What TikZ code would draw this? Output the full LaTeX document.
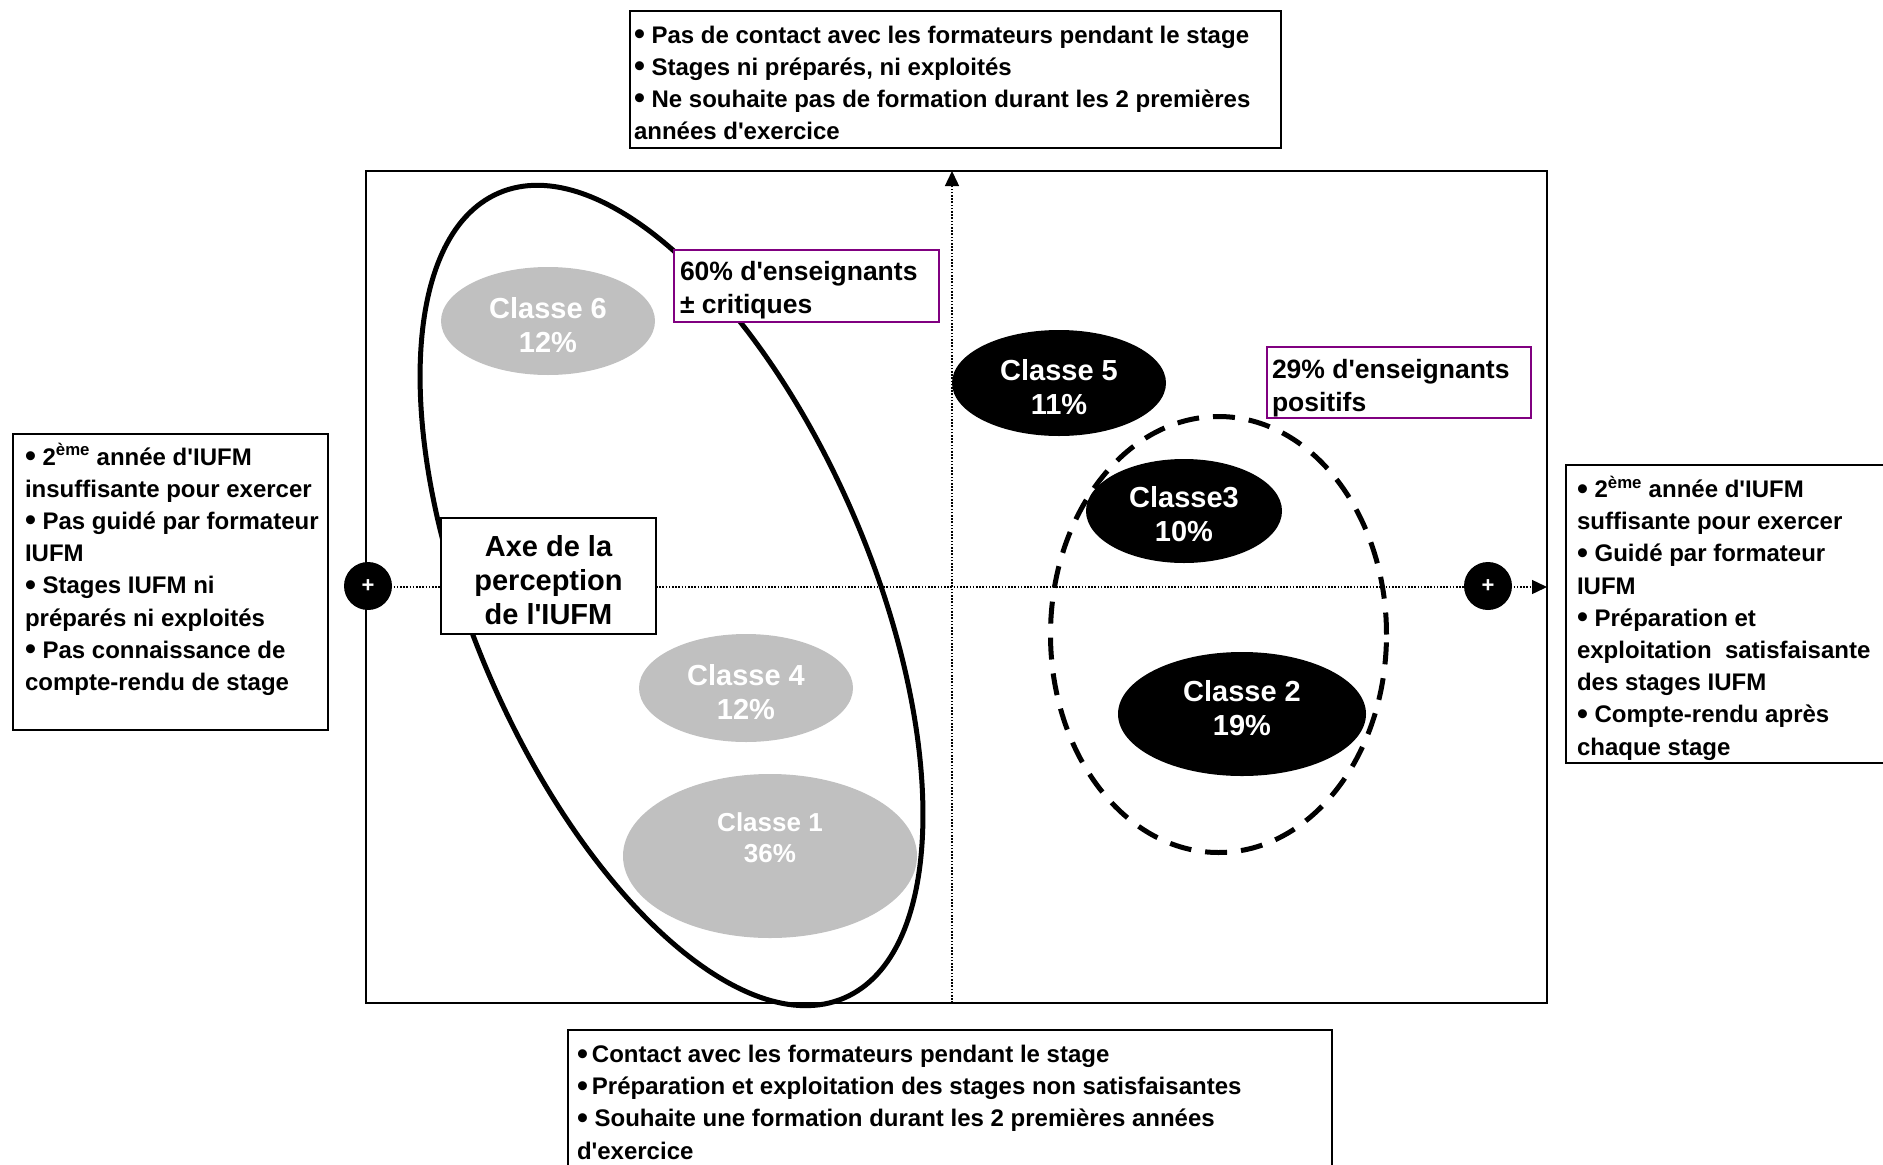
\documentclass[tikz,border=0pt]{standalone}
\usepackage{fontspec}
\usepackage{graphicx}
\newfontfamily\arialfont{Liberation Sans}
\usetikzlibrary{arrows.meta,shapes.geometric}
\definecolor{classgray}{HTML}{C0C0C0}
\definecolor{boxpurple}{HTML}{800080}
\newcommand{\mybul}{\raisebox{-1.5pt}{\scalebox{1.3}{\textbullet}}}
\begin{document}
\begin{tikzpicture}[x=1pt,y=-1pt,
  every node/.style={inner sep=0pt, outer sep=0pt},
  bodytext/.style={anchor=base west, align=left, font=\arialfont\bfseries\fontsize{24}{32.2}\selectfont},
  notetext/.style={anchor=base west, align=left, font=\arialfont\bfseries\fontsize{26.5}{32.5}\selectfont},
  axetext/.style={anchor=base, align=center, font=\arialfont\bfseries\fontsize{29}{34}\selectfont},
  classtext/.style={align=center, text=white, font=\arialfont\bfseries\fontsize{29}{33.5}\selectfont},
  smallclasstext/.style={align=center, text=white, font=\arialfont\bfseries\fontsize{26}{31}\selectfont},
  framebox/.style={draw=black, line width=2.5pt, anchor=north west},
  textbox/.style={draw=black, line width=1.8pt, fill=white, anchor=north west},
  notebox/.style={draw=boxpurple, line width=1.8pt, fill=white, anchor=north west},
  axisline/.style={line width=1.4pt, dash pattern=on 1.6pt off 1.6pt},
  axisarrow/.style={-{Triangle[length=15pt,width=14pt]}},
  graycl/.style={ellipse, fill=classgray},
  blackcl/.style={ellipse, fill=black},
  pluscircle/.style={circle, fill=black, minimum size=48pt, text=white, font=\arialfont\bfseries\fontsize{22}{22}\selectfont},
  groupsolid/.style={line width=5pt},
  groupdashed/.style={line width=5pt, dash pattern=on 22pt off 14pt},
]
\useasboundingbox (0,0) rectangle (1883,1165);
\clip (0,0) rectangle (1883,1165);

% main frame
\node[framebox, minimum width=1181pt, minimum height=832pt] (frame) at (366,171) {};

% axes
\coordinate (hstart) at (368,587);
\coordinate (vbase) at (952,1003);
\draw[axisline, axisarrow] (hstart) -- (frame.east |- hstart);
\draw[axisline, axisarrow] (vbase) -- (vbase |- frame.north);

% grey classes
\node[graycl, minimum width=214pt, minimum height=108pt] (c6) at (548,321) {};
\node[classtext] (c6t) at (548,325) {Classe 6\\12\%};
\node[graycl, minimum width=214pt, minimum height=108pt] (c4) at (746,688) {};
\node[classtext] (c4t) at (746,692) {Classe 4\\12\%};
\node[graycl, minimum width=294pt, minimum height=164pt] (c1) at (770,856) {};
\node[smallclasstext] (c1t) at (770,838) {Classe 1\\36\%};

% group outlines
\coordinate (gcrit) at (671.5,595.5);
\draw[groupsolid, rotate around={-66.8:(gcrit)}] (gcrit) ellipse [x radius=438pt, y radius=199pt];
\coordinate (gpos) at (1218.5,634.5);
\draw[groupdashed] (gpos) ellipse [x radius=168pt, y radius=218pt];

% black classes
\node[blackcl, minimum width=214pt, minimum height=106pt] (c5) at (1059,383) {};
\node[classtext] (c5t) at (1059,387) {Classe 5\\11\%};
\node[blackcl, minimum width=196pt, minimum height=104pt] (c3) at (1184,511) {};
\node[classtext] (c3t) at (1184,514) {Classe3\\10\%};
\node[blackcl, minimum width=248pt, minimum height=124pt] (c2) at (1242,714) {};
\node[classtext] (c2t) at (1242,708) {Classe 2\\19\%};

% plus markers
\node[pluscircle] (pleft) at (368,586) {+};
\node[pluscircle] (pright) at (1488,586) {+};

% axis label
\node[textbox, minimum width=215pt, minimum height=116pt] (axebox) at (441,518) {};
\node[axetext] (axetxt) at (548.5,624.5) {Axe de la\\perception\\de l'IUFM};

% purple notes
\node[notebox, minimum width=265pt, minimum height=72pt] (n60) at (674,250) {};
\node[notetext] (n60t) at (680,313) {60\% d'enseignants\\± critiques};
\node[notebox, minimum width=264pt, minimum height=71pt] (n29) at (1267,347) {};
\node[notetext] (n29t) at (1272,411) {29\% d'enseignants\\positifs};

% top box
\node[textbox, minimum width=651pt, minimum height=137pt] (topbox) at (630,11) {};
\node[bodytext] (toptxt) at (634,139.6) {\mybul{} Pas de contact avec les formateurs pendant le stage\\\mybul{} Stages ni préparés, ni exploités\\\mybul{} Ne souhaite pas de formation durant les 2 premières\\années d'exercice};

% left box
\node[textbox, minimum width=315pt, minimum height=296pt] (leftbox) at (13,434) {};
\node[bodytext] (lefttxt) at (25,690.4) {\mybul{} 2\textsuperscript{ème} année d'IUFM\\insuffisante pour exercer\\\mybul{} Pas guidé par formateur\\IUFM\\\mybul{} Stages IUFM ni\\préparés ni exploités\\\mybul{} Pas connaissance de\\compte-rendu de stage};

% right box
\node[textbox, minimum width=340pt, minimum height=298pt] (rightbox) at (1566,465) {};
\node[bodytext] (righttxt) at (1577,755.1) {\mybul{} 2\textsuperscript{ème} année d'IUFM\\suffisante pour exercer\\\mybul{} Guidé par formateur\\IUFM\\\mybul{} Préparation et\\exploitation~ satisfaisante\\des stages IUFM\\\mybul{} Compte-rendu après\\chaque stage};

% bottom box
\node[textbox, minimum width=764pt, minimum height=160pt] (botbox) at (568,1030) {};
\node[bodytext] (bottxt) at (577,1159.1) {\mybul{}\,Contact avec les formateurs pendant le stage\\\mybul{}\,Préparation et exploitation des stages non satisfaisantes\\\mybul{} Souhaite une formation durant les 2 premières années\\d'exercice};
\end{tikzpicture}
\end{document}
